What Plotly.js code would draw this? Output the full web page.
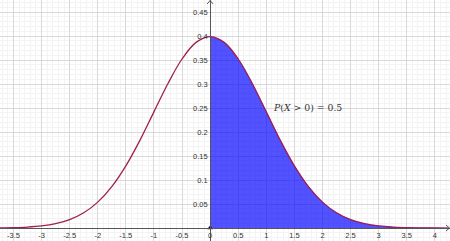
<!DOCTYPE html>
<html><head><meta charset="utf-8">
<script src="https://cdn.plot.ly/plotly-3.0.1.min.js"></script>
<style>html,body{margin:0;padding:0;background:#fff}#c{width:450px;height:241px}</style>
</head><body><div id="c"></div>
<script>
// Density values (standard normal shape)
const xs = [-3.75,-3.5,-3.25,-3,-2.75,-2.5,-2.25,-2,-1.75,-1.5,-1.25,-1,-0.75,-0.5,-0.25,0,0.25,0.5,0.75,1,1.25,1.5,1.75,2,2.25,2.5,2.75,3,3.25,3.5,3.75,4,4.25];
const ys = [0.0004,0.0009,0.0020,0.0044,0.0091,0.0175,0.0317,0.0540,0.0863,0.1295,0.1826,0.2420,0.3011,0.3521,0.3867,0.3989,0.3867,0.3521,0.3011,0.2420,0.1826,0.1295,0.0863,0.0540,0.0317,0.0175,0.0091,0.0044,0.0020,0.0009,0.0004,0.0001,0.0000];
const shadeFrom = 0;
const xTicks = [-3.5,-3,-2.5,-2,-1.5,-1,-0.5,0,0.5,1,1.5,2,2.5,3,3.5,4];
const yTicks = [0.05,0.1,0.15,0.2,0.25,0.3,0.35,0.4,0.45];
const labelText = '<i>P</i>(<i>X</i> > 0) = 0.5';
const labelPos = [1.74, 0.252];

const fx = [], fy = [];
xs.forEach((x,i)=>{ if (x >= shadeFrom) { fx.push(x); fy.push(ys[i]); } });

const xr = [-3.74, 4.27], yr = [-0.027, 0.475];
const tickFont = {family:'Liberation Sans, Arial, sans-serif', size:7.5, color:'#333'};

const data = [
  {x: fx, y: fy, type:'scatter', mode:'lines', fill:'tozeroy', fillcolor:'rgba(0,0,255,0.68)',
   line:{color:'rgba(0,0,255,0.68)', width:0.5, shape:'spline', smoothing:1}, hoverinfo:'skip'},
  {x: xs, y: ys, type:'scatter', mode:'lines', line:{color:'#9e1f52', width:1.3, shape:'spline', smoothing:1}, hoverinfo:'skip'},
  {x:[0], y:[0], type:'scatter', mode:'markers', marker:{color:'#000', size:5, symbol:'triangle-up'}, cliponaxis:false, hoverinfo:'skip'}
];

const layout = {
  width:450, height:241, margin:{l:0,r:0,t:0,b:0}, showlegend:false,
  paper_bgcolor:'#fff', plot_bgcolor:'#fff',
  xaxis:{range:xr, anchor:'free', position:(0-yr[0])/(yr[1]-yr[0]), showline:true, linecolor:'#555', linewidth:1,
    zeroline:false, showgrid:true, gridcolor:'#d9d9d9', gridwidth:1, tickmode:'array', tickvals:xTicks,
    ticktext:xTicks.map(String), ticks:'', tickfont:tickFont, ticklabelstandoff:0,
    minor:{dtick:0.1, showgrid:true, gridcolor:'#f3f3f3', gridwidth:1}},
  yaxis:{range:yr, anchor:'free', position:(0-xr[0])/(xr[1]-xr[0]), showline:true, linecolor:'#555', linewidth:1,
    zeroline:false, showgrid:true, gridcolor:'#d9d9d9', gridwidth:1, tickmode:'array', tickvals:yTicks,
    ticktext:yTicks.map(String), ticks:'', tickfont:tickFont, ticklabelstandoff:1,
    minor:{dtick:0.01, showgrid:true, gridcolor:'#f3f3f3', gridwidth:1}},
  annotations:[{x:labelPos[0], y:labelPos[1], xref:'x', yref:'y', text:labelText, showarrow:false,
    font:{family:'DejaVu Serif, Liberation Serif, serif', size:9.3, color:'#333'}}],
  shapes:[
    {type:'path', xref:'x', yref:'y', xsizemode:'pixel', ysizemode:'pixel', xanchor:0, yanchor:yr[1],
     path:'M -3 -4 L 0 -0.5 L 3 -4', line:{color:'#555', width:1}},
    {type:'path', xref:'x', yref:'y', xsizemode:'pixel', ysizemode:'pixel', xanchor:xr[1], yanchor:0,
     path:'M -4 3 L -0.5 0 L -4 -3', line:{color:'#555', width:1}}
  ]
};
Plotly.newPlot('c', data, layout, {staticPlot:true, displayModeBar:false});
</script></body></html>
